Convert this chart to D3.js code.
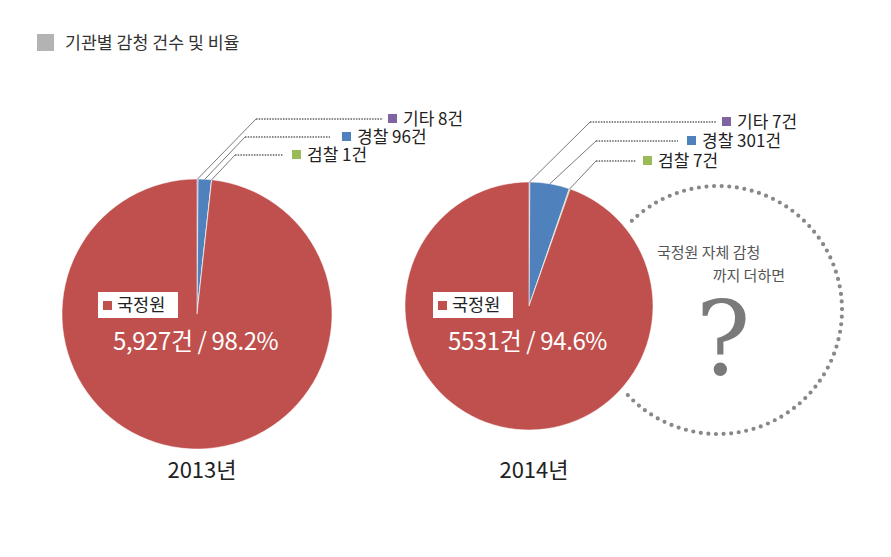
<!DOCTYPE html>
<html>
<head>
<meta charset="utf-8">
<script src="https://cdn.jsdelivr.net/npm/d3@7"></script>
<style>
  body { margin: 0; background: #fff; }
  text { font-family: "Noto Sans CJK KR", "Noto Sans", sans-serif; }
</style>
</head>
<body>
<script>
// chart data
var title = "기관별 감청 건수 및 비율";
var years = ["2013년", "2014년"];
var agencies = ["기타", "경찰", "검찰", "국정원"];
var counts2013 = [8, 96, 1, 5927];
var counts2014 = [7, 301, 7, 5531];
var mainLabels = ["5,927건 / 98.2%", "5531건 / 94.6%"];
var colors = ["#8064a2", "#4f81bd", "#9bbb59", "#c0504d"];
var noteLines = ["국정원 자체 감청", "까지 더하면"];

var w = 891;
var h = 557;

// layout of each pie and its leader labels
var pies = [
  { cx: 197, cy: 314, r: 135, counts: counts2013,
    labels: [ {ex: 256, ey: 119, hx: 383, sx: 388},
              {ex: 245, ey: 137, hx: 330, sx: 342},
              {ex: 235, ey: 155, hx: 283, sx: 292} ],
    boxX: 98, yearY: 478 },
  { cx: 529, cy: 306, r: 124, counts: counts2014,
    labels: [ {ex: 590, ey: 122, hx: 717, sx: 722},
              {ex: 596, ey: 141, hx: 678, sx: 687},
              {ex: 596, ey: 161, hx: 636, sx: 643} ],
    boxX: 433, yearY: 478 }
];

window.onload = function() {
  var svg = d3.select("body").append("svg")
              .attr("width", w)
              .attr("height", h);

  drawTitle(svg);
  drawNote(svg);
  pies.forEach(function(p, i) {
    drawPie(svg, p, i);
  });
};

function drawTitle(svg) {
  svg.append("rect")
     .attr("x", 37).attr("y", 34)
     .attr("width", 17).attr("height", 17)
     .attr("fill", "#b3b3b3");

  svg.append("text")
     .attr("x", 65).attr("y", 49)
     .attr("fill", "#333")
     .style("font-size", "17.3px")
     .text(title);
}

function drawNote(svg) {
  // dotted circle next to the 2014 pie (single arc, so the dots stay even)
  var cx = 718, cy = 310, r = 124;
  var ring = d3.path();
  ring.arc(cx, cy, r, (-44 - 90) * Math.PI / 180, (230 - 90) * Math.PI / 180);

  svg.append("path")
     .attr("d", ring.toString())
     .attr("fill", "none")
     .attr("stroke", "#888")
     .attr("stroke-width", 4.2)
     .attr("stroke-linecap", "round")
     .attr("stroke-dasharray", "0,7.6");

  svg.append("text")
     .attr("x", 657).attr("y", 258)
     .attr("fill", "#555")
     .style("font-size", "15px")
     .text(noteLines[0]);

  svg.append("text")
     .attr("x", 785).attr("y", 281)
     .attr("text-anchor", "end")
     .attr("fill", "#555")
     .style("font-size", "15px")
     .text(noteLines[1]);

  svg.append("text")
     .attr("x", 723).attr("y", 375)
     .attr("text-anchor", "middle")
     .attr("fill", "#7a7a7a")
     .style("font-family", "'DejaVu Serif', 'Liberation Serif', serif")
     .style("font-size", "102px")
     .text("?");
}

function drawPie(svg, p, i) {
  var pie = d3.pie().sort(null).value(function(d) { return d; });
  var arcs = pie(p.counts);
  var arc = d3.arc().innerRadius(0).outerRadius(p.r);

  var g = svg.append("g")
             .attr("transform", "translate(" + p.cx + "," + p.cy + ")");

  g.selectAll("path")
   .data(arcs)
   .enter()
   .append("path")
   .attr("d", arc)
   .attr("fill", function(d, j) { return colors[j]; })
   .attr("stroke", "#fff")
   .attr("stroke-width", 0.5);

  // leader lines for the small slices
  p.labels.forEach(function(l, j) {
    var a = arcs[j];
    var mid = (a.startAngle + a.endAngle) / 2;
    var px = p.cx + p.r * Math.sin(mid);
    var py = p.cy - p.r * Math.cos(mid);

    svg.append("line")
       .attr("x1", px).attr("y1", py)
       .attr("x2", l.ex).attr("y2", l.ey)
       .attr("stroke", "#555")
       .attr("stroke-width", 0.8);

    svg.append("line")
       .attr("x1", l.ex).attr("y1", l.ey)
       .attr("x2", l.hx).attr("y2", l.ey)
       .attr("stroke", "#888")
       .attr("stroke-width", 1.8)
       .attr("stroke-dasharray", "1.5,1.2");

    svg.append("rect")
       .attr("x", l.sx).attr("y", l.ey - 5)
       .attr("width", 9).attr("height", 9)
       .attr("fill", colors[j]);

    svg.append("text")
       .attr("x", l.sx + 15).attr("y", l.ey + 6)
       .attr("fill", "#222")
       .style("font-size", "17px")
       .text(agencies[j] + " " + p.counts[j] + "건");
  });

  // big slice label
  svg.append("rect")
     .attr("x", p.boxX).attr("y", 292)
     .attr("width", 80).attr("height", 26)
     .attr("fill", "#fff");

  svg.append("rect")
     .attr("x", p.boxX + 5).attr("y", 301)
     .attr("width", 9).attr("height", 9)
     .attr("fill", colors[3]);

  svg.append("text")
     .attr("x", p.boxX + 19).attr("y", 311)
     .attr("fill", "#222")
     .style("font-size", "17.5px")
     .text(agencies[3]);

  svg.append("text")
     .attr("x", p.boxX + 15).attr("y", 350)
     .attr("fill", "#fff")
     .style("font-size", "24px")
     .style("letter-spacing", "-0.4px")
     .text(mainLabels[i]);

  svg.append("text")
     .attr("x", p.cx + 5).attr("y", p.yearY)
     .attr("text-anchor", "middle")
     .attr("fill", "#222")
     .style("font-size", "22px")
     .text(years[i]);
}
</script>
</body>
</html>
